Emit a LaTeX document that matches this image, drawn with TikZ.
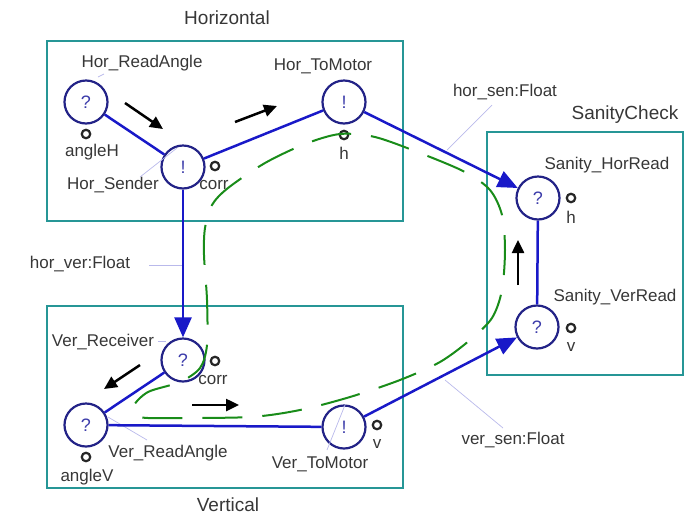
\documentclass[tikz,border=0pt]{standalone}
\usepackage{fontspec}
\setmainfont{Liberation Sans}
\usetikzlibrary{arrows.meta}

\definecolor{boxteal}{RGB}{38,150,150}
\definecolor{procblue}{RGB}{35,35,135}
\definecolor{qblue}{RGB}{60,60,170}
\definecolor{connblue}{RGB}{25,25,200}
\definecolor{loopgreen}{RGB}{25,140,25}
\definecolor{leadblue}{RGB}{185,185,235}
\definecolor{txtgray}{RGB}{55,55,55}

\tikzset{
  proc/.style={circle, draw=procblue, line width=2.2pt, minimum size=43pt, inner sep=0pt,
    text=qblue, font=\fontsize{18}{18}\selectfont},
  port/.style={circle, draw=black!85, line width=2.2pt, fill=white, minimum size=8.5pt, inner sep=0pt},
  lbl/.style={text=txtgray, font=\fontsize{17}{18}\selectfont, inner sep=1pt},
  grptitle/.style={text=txtgray, font=\fontsize{19}{20}\selectfont, inner sep=1pt},
  grp/.style={draw=boxteal, line width=2.5pt},
  conn/.style={draw=connblue, line width=2.5pt},
  send/.style={conn, -{Triangle[length=20pt, width=17pt]}},
  lead/.style={draw=leadblue, line width=0.7pt},
  move/.style={draw=black, line width=2.5pt, -{Triangle[length=13pt, width=12pt]}},
}

\begin{document}
\begin{tikzpicture}[x=1pt,y=-1pt]
\useasboundingbox (0,0) rectangle (694,515);

% group boxes
\draw[grp] (47,41) rectangle (403,221);
\draw[grp] (47,306) rectangle (403,488);
\draw[grp] (487,132) rectangle (683,375);
\node[grptitle] (tHor) at (227,18) {Horizontal};
\node[grptitle] (tVer) at (228,505) {Vertical};
\node[grptitle] (tSan) at (625,115) {SanityCheck};

% processes
\node[proc] (hra) at (86,102) {?};
\node[proc] (hs) at (183,167) {!};
\node[proc] (htm) at (344,102) {!};
\node[proc] (vr) at (183,360) {?};
\node[proc] (vra) at (86,425) {?};
\node[proc] (vtm) at (344,427) {!};
\node[proc] (shr) at (538,198) {?};
\node[proc] (svr) at (537,327) {?};

% ports
\node[port] (pAngleH) at (86,134) {};
\node[port] (pCorrH) at (215,166) {};
\node[port] (pH) at (344,135) {};
\node[port] (pCorrV) at (215,361) {};
\node[port] (pAngleV) at (86,457) {};
\node[port] (pV) at (377,425) {};
\node[port] (pSanH) at (571,198) {};
\node[port] (pSanV) at (571,328) {};

% labels
\node[lbl] (lhra) at (142,63) {Hor\_ReadAngle};
\node[lbl] (lhs) at (113,185) {Hor\_Sender};
\node[lbl] (lhtm) at (323,66) {Hor\_ToMotor};
\node[lbl] (lvr) at (103,342) {Ver\_Receiver};
\node[lbl] (lvra) at (168,453) {Ver\_ReadAngle};
\node[lbl] (lvtm) at (320,464) {Ver\_ToMotor};
\node[lbl] (lshr) at (607,165) {Sanity\_HorRead};
\node[lbl] (lsvr) at (615,297) {Sanity\_VerRead};
\node[lbl] (lAngleH) at (92,152) {angleH};
\node[lbl] (lCorrH) at (214,185) {corr};
\node[lbl] (lH) at (344,153) {h};
\node[lbl] (lCorrV) at (213,380) {corr};
\node[lbl] (lAngleV) at (87,477) {angleV};
\node[lbl] (lV) at (377,444) {v};
\node[lbl] (lSanH) at (571,217) {h};
\node[lbl] (lSanV) at (571,347) {v};
\node[lbl] (lhsen) at (505,92) {hor\_sen:Float};
\node[lbl] (lhver) at (80,264) {hor\_ver:Float};
\node[lbl] (lvsen) at (513,440) {ver\_sen:Float};

% leader lines
\draw[lead] (98,77) -- (104,74);
\draw[lead] (140,177) -- (177,148);
\draw[lead] (158,341) -- (166,341);
\draw[lead] (108,417) -- (147,440);
\draw[lead] (327,450) -- (345,405);
\draw[lead] (492,105) -- (447,150);
\draw[lead] (149,265) -- (183,265);
\draw[lead] (503,428) -- (445,380);

% connectors
\draw[conn] (hra) -- (hs);
\draw[conn] (hs) -- (htm);
\draw[send] (hs) -- (vr);
\draw[send] (htm) -- (shr);
\draw[conn] (vr) -- (vra);
\draw[conn] (vra) -- (vtm);
\draw[send] (vtm) -- (svr);
\draw[conn] (shr) -- (svr);

% direction hints
\draw[move] (125,103) -- (163,129);
\draw[move] (235,122) -- (277,106);
\draw[move] (140,365) -- (104,389);
\draw[move] (192,405) -- (239,405);
\draw[move] (518,285) -- (518,240);

% control loop
\draw[loopgreen, line width=2pt, dash pattern=on 40pt off 20pt]
  plot[smooth cycle, tension=0.5] coordinates {
    (205,228) (212,205) (228,188) (265,163) (305,144) (340,134) (375,137)
    (420,153) (465,172) (490,190) (502,215) (505,250) (502,290) (492,318)
    (470,340) (440,362) (400,380) (350,397) (300,410) (250,417) (170,418)
    (140,417) (133,407) (148,392) (180,382) (200,368) (207,345) (207,300)
    (204,255)};
\end{tikzpicture}
\end{document}
